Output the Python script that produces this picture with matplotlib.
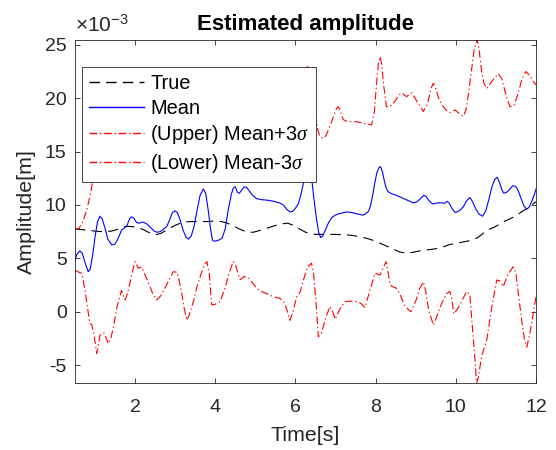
import matplotlib
matplotlib.use("Agg")
import matplotlib.pyplot as plt
from matplotlib.lines import Line2D

# Time stamps [s] and amplitudes in units of 1e-3 m
t_true = [0.5, 0.8, 1.0, 1.2, 1.4, 1.55, 1.7, 1.85, 2.0, 2.1, 2.2, 2.33, 2.45, 2.55,
          2.65, 2.8, 3.0, 3.2, 3.4, 3.6, 3.8, 4.0, 4.15, 4.3, 4.45, 4.6, 4.8, 4.95,
          5.1, 5.35, 5.6, 5.8, 5.95, 6.1, 6.25, 6.5, 6.8, 7.0, 7.3, 7.5, 7.7, 7.85,
          8.0, 8.15, 8.3, 8.45, 8.6, 8.75, 8.9, 9.1, 9.3, 9.5, 9.7, 9.85, 10.0,
          10.2, 10.4, 10.55, 10.7, 10.85, 11.0, 11.2, 11.35, 11.5, 11.7, 11.9, 12.0]
amp_true = [7.75, 7.65, 7.55, 7.5, 7.55, 7.7, 7.95, 8.0, 7.95, 7.85, 7.7, 7.45,
            7.25, 7.25, 7.35, 7.7, 8.1, 8.4, 8.45, 8.45, 8.45, 8.5, 8.45, 8.3, 8.05,
            7.75, 7.45, 7.45, 7.6, 7.9, 8.2, 8.3, 8.1, 7.75, 7.45, 7.25, 7.25, 7.25,
            7.2, 7.1, 6.95, 6.8, 6.6, 6.35, 6.1, 5.85, 5.6, 5.5, 5.55, 5.7, 5.8,
            5.9, 6.1, 6.3, 6.4, 6.55, 6.7, 6.95, 7.4, 7.75, 8.0, 8.45, 8.7, 9.0,
            9.5, 10.0, 10.3]

t_mean = [0.5, 0.55, 0.62, 0.68, 0.75, 0.83, 0.88, 0.94, 1.0, 1.06, 1.12, 1.18,
          1.25, 1.32, 1.42, 1.5, 1.58, 1.66, 1.72, 1.8, 1.86, 1.91, 1.97, 2.04,
          2.1, 2.2, 2.3, 2.41, 2.48, 2.54, 2.62, 2.7, 2.79, 2.86, 2.93, 3.0, 3.06,
          3.13, 3.2, 3.27, 3.33, 3.4, 3.47, 3.55, 3.62, 3.7, 3.76, 3.82, 3.88, 3.93,
          3.98, 4.08, 4.17, 4.25, 4.32, 4.4, 4.45, 4.5, 4.55, 4.6, 4.66, 4.72,
          4.78, 4.85, 4.93, 5.03, 5.15, 5.3, 5.45, 5.6, 5.7, 5.78, 5.86, 5.93, 6.0,
          6.07, 6.13, 6.19, 6.24, 6.3, 6.35, 6.4, 6.46, 6.52, 6.58, 6.63, 6.68,
          6.75, 6.82, 6.9, 6.99, 7.1, 7.28, 7.4, 7.55, 7.69, 7.76, 7.82, 7.87,
          7.93, 7.98, 8.03, 8.08, 8.12, 8.17, 8.22, 8.27, 8.31, 8.4, 8.52, 8.7,
          8.85, 8.94, 9.03, 9.12, 9.2, 9.26, 9.33, 9.4, 9.44, 9.55, 9.65, 9.72,
          9.78, 9.83, 9.9, 9.98, 10.06, 10.13, 10.19, 10.27, 10.35, 10.42, 10.5,
          10.58, 10.67, 10.75, 10.83, 10.9, 10.97, 11.03, 11.09, 11.15, 11.2,
          11.27, 11.35, 11.42, 11.49, 11.55, 11.62, 11.7, 11.77, 11.83, 11.9,
          11.96, 12.0]
amp_mean = [4.85, 5.4, 5.7, 5.5, 4.6, 3.75, 4.0, 5.3, 7.0, 8.4, 8.95, 8.7, 7.8,
            6.8, 6.25, 6.35, 6.9, 7.65, 7.8, 8.1, 8.7, 8.9, 8.75, 8.35, 8.3, 8.4,
            8.2, 7.8, 7.55, 7.45, 7.5, 7.7, 8.0, 8.6, 9.3, 9.45, 9.25, 8.5, 7.6,
            7.0, 6.8, 7.1, 8.0, 9.6, 10.9, 11.5, 11.1, 9.6, 7.8, 6.7, 6.6, 6.7,
            6.9, 7.8, 9.5, 11.0, 11.6, 11.7, 11.2, 11.1, 11.4, 11.7, 11.65, 11.3,
            10.9, 10.6, 10.5, 10.45, 10.35, 10.2, 10.0, 9.6, 9.35, 9.4, 9.7, 10.1,
            10.9, 11.9, 12.6, 13.5, 13.6, 12.6, 10.6, 8.8, 7.4, 6.95, 7.1, 7.7,
            8.3, 8.8, 9.05, 9.2, 9.35, 9.3, 9.15, 9.05, 9.2, 9.4, 9.9, 11.0, 12.1,
            13.0, 13.5, 13.6, 13.1, 12.2, 11.5, 11.25, 11.05, 10.9, 10.6, 10.35,
            10.2, 10.3, 10.6, 10.9, 10.8, 10.4, 10.15, 10.1, 10.2, 10.2, 10.15,
            10.35, 10.2, 9.7, 9.3, 9.4, 9.6, 9.85, 10.4, 10.7, 10.3, 9.6, 9.15,
            8.95, 9.5, 10.6, 11.7, 12.4, 12.6, 12.1, 11.4, 11.1, 11.2, 11.5, 11.8,
            11.75, 11.4, 10.7, 9.9, 9.6, 9.8, 10.4, 11.0, 11.5]

t_upper = [0.5, 0.6, 0.7, 0.8, 0.9, 0.95, 1.05, 1.15, 1.3, 1.5, 1.7, 1.9, 2.1, 2.4,
           2.6, 2.9, 3.1, 3.3, 3.7, 3.95, 4.2, 4.5, 4.8, 5.1, 5.4, 5.7, 5.9, 6.1,
           6.3, 6.4, 6.5, 6.56, 6.61, 6.69, 6.76, 6.84, 6.95, 7.02, 7.07, 7.12,
           7.19, 7.3, 7.53, 7.75, 7.9, 7.97, 8.02, 8.07, 8.11, 8.15, 8.2, 8.27,
           8.35, 8.48, 8.58, 8.65, 8.77, 8.9, 9.05, 9.19, 9.3, 9.38, 9.44, 9.5,
           9.58, 9.65, 9.75, 9.85, 9.98, 10.1, 10.19, 10.26, 10.33, 10.4, 10.46,
           10.53, 10.58, 10.64, 10.7, 10.77, 10.9, 11.06, 11.15, 11.25, 11.35,
           11.45, 11.55, 11.65, 11.75, 11.85, 11.93, 12.0]
amp_upper = [7.7, 7.8, 8.5, 9.6, 11.3, 12.5, 16.0, 19.0, 17.0, 14.0, 13.5, 15.0,
             13.0, 14.0, 13.5, 15.0, 14.5, 13.0, 18.0, 13.0, 13.5, 19.0, 19.5, 18.5,
             18.5, 18.5, 18.0, 19.5, 23.1, 22.0, 18.5, 17.0, 16.4, 16.25, 16.5,
             17.2, 18.3, 19.0, 19.2, 18.8, 18.0, 17.8, 17.8, 17.6, 17.5, 18.8, 21.3,
             23.3, 23.9, 23.2, 21.2, 19.2, 19.2, 19.7, 20.3, 20.5, 20.15, 20.5,
             19.6, 18.75, 19.6, 20.9, 21.4, 20.9, 19.9, 19.4, 18.9, 18.65, 18.9,
             18.5, 18.3, 19.0, 20.8, 22.9, 24.6, 25.5, 24.6, 22.6, 21.4, 20.9, 21.6,
             22.3, 21.8, 20.3, 19.2, 19.3, 20.4, 21.8, 22.5, 22.1, 21.6, 21.25]

t_lower = [0.5, 0.6, 0.67, 0.75, 0.87, 0.92, 0.98, 1.04, 1.08, 1.12, 1.18, 1.23,
           1.28, 1.33, 1.4, 1.46, 1.55, 1.66, 1.71, 1.75, 1.8, 1.87, 1.94, 2.0,
           2.04, 2.08, 2.16, 2.3, 2.45, 2.54, 2.64, 2.74, 2.85, 2.95, 3.05, 3.15,
           3.22, 3.29, 3.35, 3.45, 3.54, 3.65, 3.73, 3.79, 3.85, 3.91, 4.0, 4.12,
           4.25, 4.35, 4.45, 4.5, 4.55, 4.62, 4.72, 4.82, 4.95, 5.03, 5.15, 5.28,
           5.45, 5.61, 5.72, 5.8, 5.86, 5.93, 6.03, 6.11, 6.2, 6.3, 6.4, 6.45,
           6.52, 6.57, 6.65, 6.75, 6.86, 6.93, 6.99, 7.1, 7.23, 7.38, 7.53, 7.63,
           7.73, 7.85, 7.98, 8.11, 8.2, 8.26, 8.31, 8.36, 8.45, 8.52, 8.6, 8.73,
           8.88, 9.0, 9.1, 9.19, 9.25, 9.32, 9.44, 9.55, 9.65, 9.77, 9.85, 9.9,
           9.95, 10.05, 10.15, 10.27, 10.35, 10.4, 10.46, 10.52, 10.57, 10.64,
           10.77, 10.9, 11.02, 11.1, 11.18, 11.3, 11.43, 11.5, 11.56, 11.65, 11.72,
           11.77, 11.85, 11.93, 12.0]
amp_lower = [3.9, 3.7, 3.6, 2.0, -1.1, -1.2, -2.3, -3.9, -3.2, -2.2, -2.0, -2.0,
             -2.5, -3.0, -2.4, -1.4, 0.5, 2.0, 1.5, 1.1, 1.6, 2.66, 3.9, 4.7, 4.4,
             4.07, 4.2, 3.0, 1.6, 1.1, 1.5, 2.2, 3.0, 3.75, 3.7, 2.0, 0.4, -0.8,
             -0.3, 0.9, 2.3, 3.6, 4.4, 4.7, 3.5, 0.65, 0.7, 0.95, 2.3, 3.7, 4.7,
             4.4, 3.8, 3.0, 3.3, 3.2, 2.6, 2.2, 1.9, 1.7, 1.4, 1.25, 0.9, 0.0, -0.8,
             -0.1, 1.4, 1.8, 3.0, 4.2, 4.55, 3.6, 0.5, -2.35, -2.0, -0.6, 0.5, 0.0,
             -0.7, 0.2, 0.95, 1.0, 0.95, 0.8, 0.4, 1.9, 3.6, 3.45, 4.2, 4.7, 3.7,
             2.5, 2.3, 2.2, 1.7, 0.5, 0.0, 1.0, 2.2, 2.8, 1.9, 0.2, -1.25, -0.2,
             0.8, 1.7, 1.9, 1.2, -0.2, 0.3, 1.0, 1.9, 1.55, -0.8, -3.6, -6.7, -6.0,
             -4.2, -2.65, 0.5, 2.97, 2.9, 2.35, 3.5, 4.2, 3.6, 1.7, -1.0, -2.8,
             -3.3, -2.0, -0.2, 1.4]

x_ticks = [2, 4, 6, 8, 10, 12]
y_ticks = [-5, 0, 5, 10, 15, 20, 25]
legend_labels = ["True", "Mean", r"(Upper) Mean+3$\sigma$", r"(Lower) Mean-3$\sigma$"]
line_colors = ["#000000", "#0000ff", "#ff0000", "#ff0000"]

plt.rcParams["font.family"] = ["Liberation Sans", "DejaVu Sans"]
plt.rcParams["mathtext.fontset"] = "custom"
plt.rcParams["mathtext.rm"] = "Liberation Sans"
plt.rcParams["mathtext.it"] = "Liberation Serif:italic"
plt.rcParams["lines.scale_dashes"] = False

ink = (0.15, 0.15, 0.15)
fs = 14
lw = 0.8
styles = [(0, (7.5, 4.5)), "solid", (0, (5.5, 2, 1, 2)), (0, (5.5, 2, 1, 2))]

fig = plt.figure(figsize=(5.56, 4.5), dpi=100)
ax = fig.add_axes([75 / 556, 1 - 383.3 / 450, 461 / 556, 343.8 / 450])

series = [(t_true, amp_true), (t_mean, amp_mean), (t_upper, amp_upper), (t_lower, amp_lower)]
for (tt, yy), c, ls in zip(series, line_colors, styles):
    ax.plot(tt, yy, color=c, lw=lw, linestyle=ls)

ax.set_xlim(0.5, 12)
ax.set_ylim(min(amp_lower), max(amp_upper))
ax.set_xticks(x_ticks)
ax.set_yticks(y_ticks)
ax.set_xticklabels([str(v) for v in x_ticks])
ax.set_yticklabels([str(v) for v in y_ticks])

ax.tick_params(direction="in", length=3.6, width=0.6, colors=ink, labelsize=fs,
               top=True, right=True)
ax.tick_params(axis="x", pad=11)
ax.tick_params(axis="y", pad=6)
for sp in ax.spines.values():
    sp.set_color(ink)
    sp.set_linewidth(0.6)

ax.set_title("Estimated amplitude", fontsize=16, fontweight="bold", pad=7)
ax.set_xlabel("Time[s]", fontsize=15.4, color=ink)
ax.set_ylabel("Amplitude[m]", fontsize=15.4, color=ink)
ax.xaxis.set_label_coords(0.5, -0.125)
ax.yaxis.set_label_coords(-0.085, 0.5)

ax.text(0.0, 1.012, r"$\times\mathregular{10^{-3}}$", transform=ax.transAxes,
        fontsize=15, color=ink, ha="left", va="bottom")

# explicit legend keys so each swatch carries its series colour
keys = [Line2D([], [], color=c, lw=1.0, linestyle=ls) for c, ls in zip(line_colors, styles)]
leg = ax.legend(keys, legend_labels,
                loc="upper left", bbox_to_anchor=(7 / 461, 1 - 27.5 / 343.8),
                borderaxespad=0, fontsize=14.4, handlelength=2.75, handletextpad=0.3,
                labelspacing=0.28, borderpad=0.36, fancybox=False, framealpha=1)
leg.get_frame().set_edgecolor(ink)
leg.get_frame().set_linewidth(0.6)

fig.savefig("out.png", dpi=100)
